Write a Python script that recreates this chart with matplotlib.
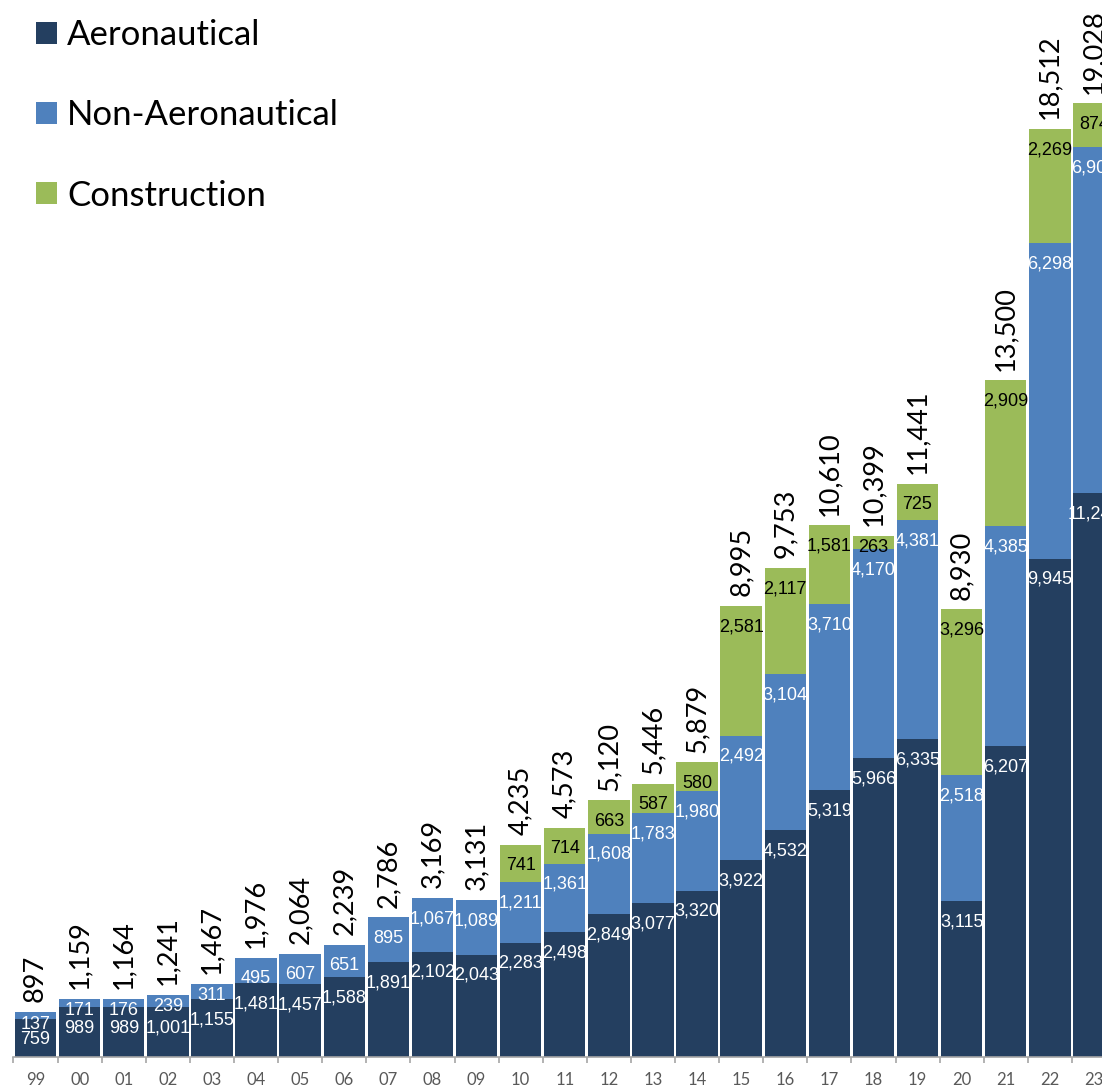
import matplotlib
matplotlib.use('Agg')
import matplotlib.pyplot as plt
import numpy as np

# fiscal years (two-digit)
years = ['99', '00', '01', '02', '03', '04', '05', '06', '07', '08', '09', '10',
         '11', '12', '13', '14', '15', '16', '17', '18', '19', '20', '21', '22', '23']
aero = [759, 989, 989, 1001, 1155, 1481, 1457, 1588, 1891, 2102, 2043, 2283,
        2498, 2849, 3077, 3320, 3922, 4532, 5319, 5966, 6335, 3115, 6207, 9945, 11248]
non_aero = [137, 171, 176, 239, 311, 495, 607, 651, 895, 1067, 1089, 1211,
            1361, 1608, 1783, 1980, 2492, 3104, 3710, 4170, 4381, 2518, 4385, 6298, 6906]
construction = [0, 0, 0, 0, 0, 0, 0, 0, 0, 0, 0, 741,
                714, 663, 587, 580, 2581, 2117, 1581, 263, 725, 3296, 2909, 2269, 874]
totals = [897, 1159, 1164, 1241, 1467, 1976, 2064, 2239, 2786, 3169, 3131, 4235,
          4573, 5120, 5446, 5879, 8995, 9753, 10610, 10399, 11441, 8930, 13500, 18512, 19028]

series = [('Aeronautical', aero, '#243F60', 'white'),
          ('Non-Aeronautical', non_aero, '#4F81BD', 'white'),
          ('Construction', construction, '#9BBB59', 'black')]

main_font = ['Lato', 'DejaVu Sans']
narrow_font = ['Liberation Sans Narrow', 'Liberation Sans', 'DejaVu Sans']

fig = plt.figure(figsize=(11.02, 10.91), dpi=100)
# axes runs slightly past the right edge, like the cropped original
ax = fig.add_axes([13.5 / 1102, 34 / 1091, 25 * 44.1 / 1102, 1057 / 1091])

x = np.arange(len(years))
ax.set_xlim(-0.5, len(years) - 0.5)
ax.set_ylim(0, 21090)

bottom = np.zeros(len(years))
for name, vals, color, txt_color in series:
    vals = np.array(vals)
    ax.bar(x, vals, width=0.94, bottom=bottom, color=color, label=name, linewidth=0)
    tops = bottom + vals
    for i in range(len(years)):
        if vals[i] == 0:
            continue
        # height of the segment in pixels
        h_px = ax.transData.transform((0, vals[i]))[1] - ax.transData.transform((0, 0))[1]
        off = 15 if h_px >= 22 else 8.6
        ax.annotate(f'{vals[i]:,}', (x[i], tops[i]), xytext=(0, -off),
                    textcoords='offset points', ha='center', va='center',
                    color=txt_color, fontsize=13, family=narrow_font, clip_on=False)
    bottom = tops

# totals above each bar
for i in range(len(years)):
    ax.annotate(f'{totals[i]:,}', (x[i], bottom[i]), xytext=(0, 7),
                textcoords='offset points', ha='center', va='bottom', rotation=90,
                fontsize=19.5, family=main_font, color='black')

for s in ['top', 'right', 'left']:
    ax.spines[s].set_visible(False)
ax.spines['bottom'].set_color('#A6A6A6')
ax.spines['bottom'].set_linewidth(1.2)
ax.set_yticks([])

ax.set_xticks(x)
ax.set_xticklabels(years, family=main_font, fontsize=12, color='#595959')
ax.tick_params(axis='x', which='major', length=0, pad=11)
ax.set_xticks(np.arange(-0.5, len(years), 1), minor=True)
ax.tick_params(axis='x', which='minor', length=4, color='#A6A6A6', width=1.2)

fig.legend(loc='upper left', bbox_to_anchor=(36 / 1102, 1 - 19 / 1091), frameon=False,
           prop={'family': main_font, 'size': 25}, handlelength=0.6, handleheight=0.6,
           handletextpad=0.3, labelspacing=1.39, borderpad=0, borderaxespad=0)

fig.savefig('out.png', dpi=100)
